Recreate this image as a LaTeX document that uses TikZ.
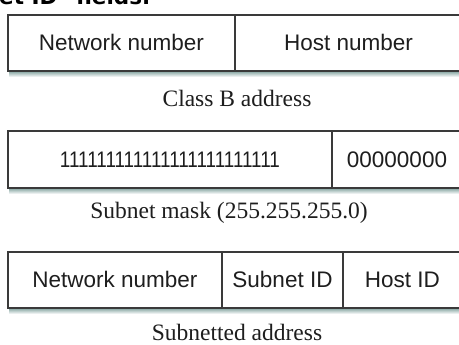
\documentclass[tikz,border=0pt]{standalone}
\usepackage{fontspec}
\setmainfont{Liberation Serif}
\setsansfont{Liberation Sans}
\newfontfamily\topfont{DejaVu Sans}
\definecolor{linegray}{HTML}{3A3A3A}
\definecolor{txt}{HTML}{1E1E1E}
\definecolor{shadowc}{HTML}{7FA09C}
\begin{document}
\begin{tikzpicture}[x=1pt,y=1pt,
  cell/.style={draw=linegray, line width=1.1pt, inner sep=0pt, outer sep=0pt, anchor=south west,
    text height=16pt, text depth=0pt,
    font=\sffamily\fontsize{22.5}{26}\selectfont, text=txt},
  captext/.style={anchor=base, inner sep=0pt, font=\fontsize{23.5}{28}\selectfont, text=txt},
  shadowbar/.style={top color=shadowc, bottom color=white},
]
\useasboundingbox (0,0) rectangle (459,345);
\clip (0,0) rectangle (459,345);
\fill[white] (0,0) rectangle (459,345);

% partial heading at the top
\node[anchor=base west, inner sep=0pt, font=\topfont\bfseries\fontsize{21.5}{26}\selectfont, text=black] (head) at (-1,340) {et ID" fields.};

% shadows
\shade[shadowbar] (9,274) rectangle (462,268);
\shade[shadowbar] (9,157) rectangle (462,151);
\shade[shadowbar] (9,37) rectangle (462,31);

% Class B address
\node[cell, minimum width=227, minimum height=56] (b1n) at (8,274) {Network number};
\node[cell, minimum width=227, minimum height=56] (b1h) at (235,274) {Host number};
\draw[linegray, line width=1.8pt] (b1n.south west) -- (b1h.south east);
\node[captext] (c1) at (237,238) {Class B address};

% Subnet mask
\node[cell, minimum width=324, minimum height=57] (b2o) at (8,157) {\scalebox{0.84}[1]{111111111111111111111111}};
\node[cell, minimum width=130, minimum height=57] (b2z) at (332,157) {00000000};
\draw[linegray, line width=1.8pt] (b2o.south west) -- (b2z.south east);
\node[captext] (c2) at (229,126) {Subnet mask (255.255.255.0)};

% Subnetted address
\node[cell, minimum width=214, minimum height=56] (b3n) at (8,37) {Network number};
\node[cell, minimum width=121, minimum height=56] (b3s) at (222,37) {Subnet ID};
\node[cell, minimum width=119, minimum height=56] (b3h) at (343,37) {Host ID};
\draw[linegray, line width=1.8pt] (b3n.south west) -- (b3h.south east);
\node[captext] (c3) at (237,4) {Subnetted address};
\end{tikzpicture}
\end{document}
